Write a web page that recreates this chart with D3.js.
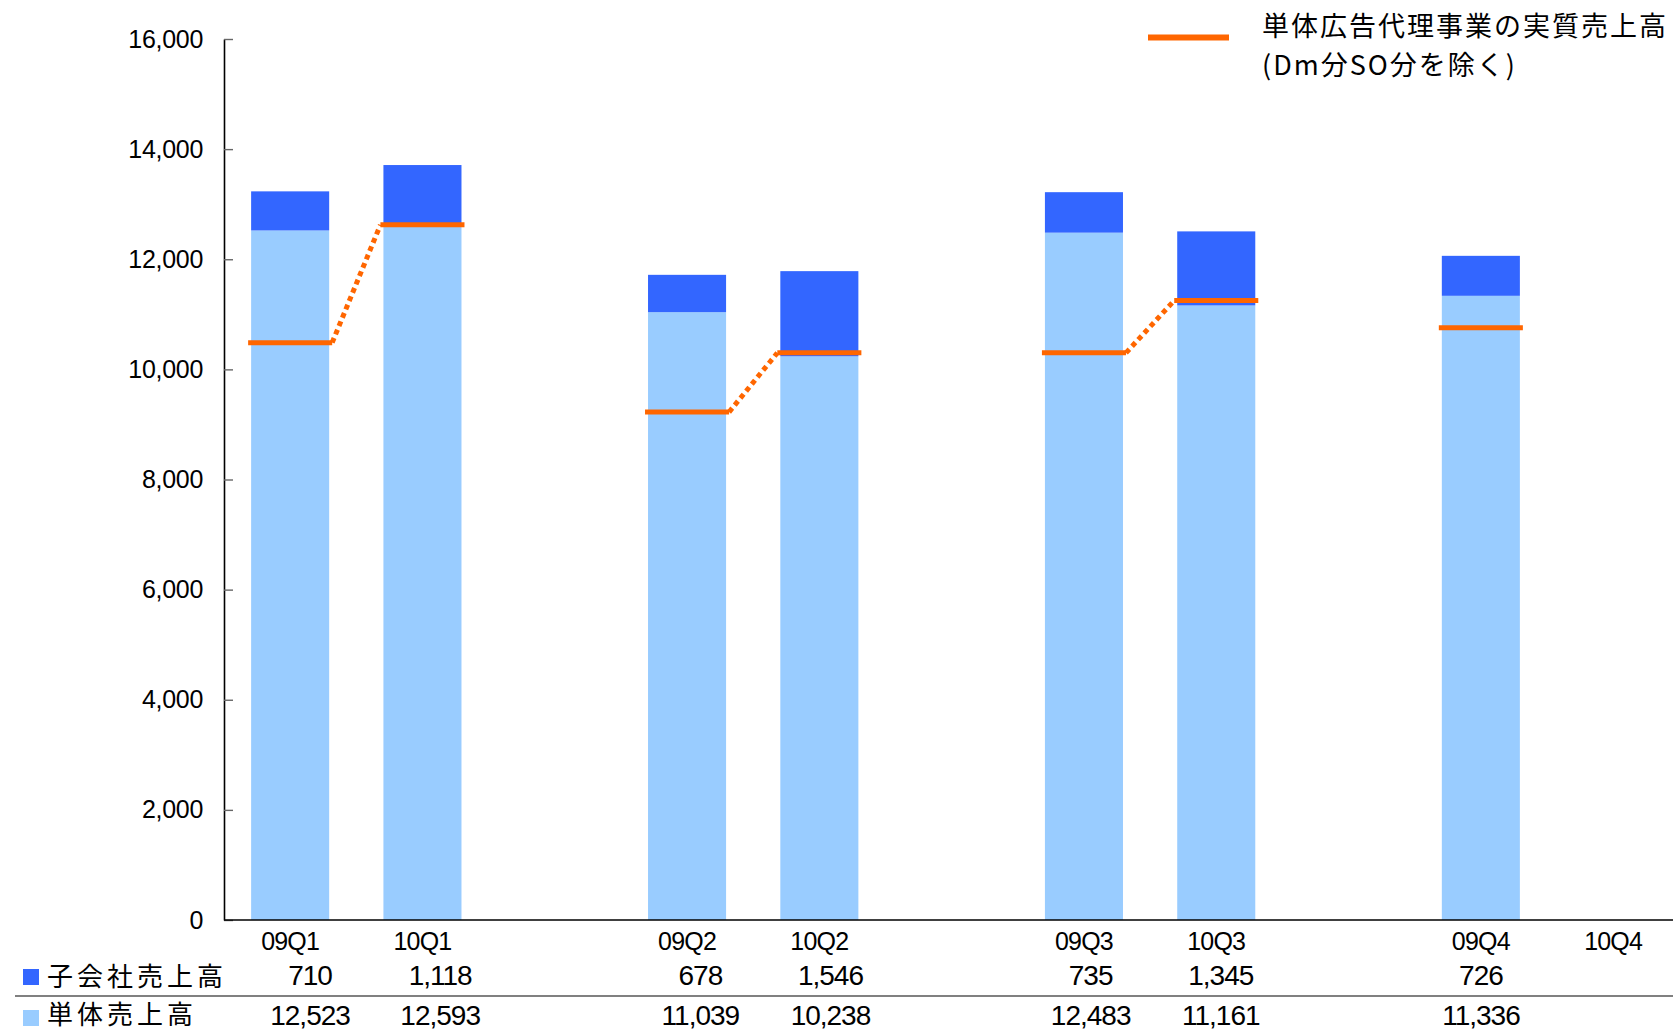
<!DOCTYPE html>
<html lang="ja">
<head>
<meta charset="utf-8">
<script src="https://cdn.jsdelivr.net/npm/d3@7"></script>
<style>
  html, body { margin: 0; padding: 0; background: #fff; }
  svg { display: block; }
  .num { font-family: "Liberation Sans", Arial, sans-serif; fill: #000; }
  .jp { font-family: "Noto Sans CJK JP", "Noto Sans", sans-serif; fill: #000; }
</style>
</head>
<body>
<svg id="chart" width="1673" height="1032"></svg>
<script>
// Quarterly sales (million yen): FY2009 vs FY2010 by quarter
const categories = ["09Q1", "10Q1", "09Q2", "10Q2", "09Q3", "10Q3", "09Q4", "10Q4"];
const subsidiarySales = [710, 1118, 678, 1546, 735, 1345, 726, null];      // 子会社売上高
const standaloneSales = [12523, 12593, 11039, 10238, 12483, 11161, 11336, null]; // 単体売上高
const coreAgencySales = [10485, 12625, 9225, 10300, 10300, 11250, 10755, null];  // 単体広告代理事業の実質売上高
const yTicks = [0, 2000, 4000, 6000, 8000, 10000, 12000, 14000, 16000];

const rowLabels = ["子会社売上高", "単体売上高"];
const legendLines = ["単体広告代理事業の実質売上高", "(Dm分SO分を除く)"];

const COLOR_SUB = "#3366FF";
const COLOR_SOLO = "#99CCFF";
const COLOR_CORE = "#FF6600";

const W = 1673, H = 1032;
const svg = d3.select("#chart");

// Slots: each quarter pair followed by an empty spacer slot
const slots = [];
for (let i = 0; i < categories.length; i += 2) {
  slots.push(categories[i], categories[i + 1]);
  if (i + 2 < categories.length) slots.push("gap" + i);
}

const plotLeft = 224, plotTop = 39, plotBottom = 920;
const x = d3.scaleBand()
  .domain(slots)
  .range([plotLeft, plotLeft + slots.length * 132.3])
  .paddingInner(0.41)
  .paddingOuter(0.205);

// Data table columns sit on a slightly narrower grid than the bars
const xTable = d3.scaleBand()
  .domain(slots)
  .range([245, 245 + slots.length * 130.1]);

const y = d3.scaleLinear().domain([0, 16000]).range([plotBottom, plotTop]);

const rows = categories.map((c, i) => ({
  cat: c,
  solo: standaloneSales[i],
  sub: subsidiarySales[i],
  core: coreAgencySales[i]
}));
const present = rows.filter(d => d.solo != null);

// Stacked bars: standalone at the bottom, subsidiaries on top
const bars = svg.append("g");
bars.selectAll("rect.solo")
  .data(present)
  .join("rect")
  .attr("class", "solo")
  .attr("x", d => x(d.cat))
  .attr("width", x.bandwidth())
  .attr("y", d => y(d.solo))
  .attr("height", d => y(0) - y(d.solo))
  .attr("fill", COLOR_SOLO);

bars.selectAll("rect.sub")
  .data(present)
  .join("rect")
  .attr("class", "sub")
  .attr("x", d => x(d.cat))
  .attr("width", x.bandwidth())
  .attr("y", d => y(d.solo + d.sub))
  .attr("height", d => y(d.solo) - y(d.solo + d.sub))
  .attr("fill", COLOR_SUB);

// Y axis with inward ticks
const yAxis = d3.axisLeft(y)
  .tickValues(yTicks)
  .tickFormat(d3.format(","))
  .tickSizeInner(-9)
  .tickSizeOuter(0)
  .tickPadding(21);

const yg = svg.append("g")
  .attr("transform", `translate(${plotLeft},0)`)
  .call(yAxis);
yg.select(".domain").attr("stroke", "#000").attr("stroke-width", 1.6);
yg.selectAll(".tick line").attr("stroke", "#666").attr("stroke-width", 1.4);
yg.selectAll(".tick text")
  .attr("class", "num")
  .style("font-size", "25px")
  .style("letter-spacing", "-0.3px")
  .attr("fill", "#000");

// Baseline running to the right edge
svg.append("line")
  .attr("x1", plotLeft).attr("x2", W)
  .attr("y1", y(0)).attr("y2", y(0))
  .attr("stroke", "#000").attr("stroke-width", 1.6);

// Core agency sales: short horizontal marks plus dotted links between years
const coreG = svg.append("g");
const ext = 3;
const withCore = rows.filter(d => d.core != null);
coreG.selectAll("line.core")
  .data(withCore)
  .join("line")
  .attr("class", "core")
  .attr("x1", d => x(d.cat) - ext)
  .attr("x2", d => x(d.cat) + x.bandwidth() + ext)
  .attr("y1", d => y(d.core))
  .attr("y2", d => y(d.core))
  .attr("stroke", COLOR_CORE)
  .attr("stroke-width", 5);

const links = [];
for (let i = 0; i < rows.length; i += 2) {
  const a = rows[i], b = rows[i + 1];
  if (a && b && a.core != null && b.core != null) links.push([a, b]);
}
coreG.selectAll("line.link")
  .data(links)
  .join("line")
  .attr("class", "link")
  .attr("x1", d => x(d[0].cat) + x.bandwidth() + ext)
  .attr("y1", d => y(d[0].core))
  .attr("x2", d => x(d[1].cat) - ext)
  .attr("y2", d => y(d[1].core))
  .attr("stroke", COLOR_CORE)
  .attr("stroke-width", 5)
  .attr("stroke-dasharray", "5,4");

// Legend
const legend = svg.append("g");
legend.append("line")
  .attr("x1", 1148).attr("x2", 1229)
  .attr("y1", 37.5).attr("y2", 37.5)
  .attr("stroke", COLOR_CORE).attr("stroke-width", 6);
legend.selectAll("text")
  .data(legendLines)
  .join("text")
  .attr("class", "jp")
  .attr("x", 1262)
  .attr("y", (d, i) => 36 + i * 39)
  .style("font-size", "27px")
  .style("letter-spacing", "2px")
  .text(d => d);

// Data table under the chart
const table = svg.append("g");
table.selectAll("text.cat")
  .data(rows)
  .join("text")
  .attr("class", "num cat")
  .attr("x", d => x(d.cat) + x.bandwidth() / 2)
  .attr("y", 950)
  .attr("text-anchor", "middle")
  .style("font-size", "25px")
  .style("letter-spacing", "-0.8px")
  .text(d => d.cat);

const fmt = d3.format(",");
table.selectAll("text.subv")
  .data(present)
  .join("text")
  .attr("class", "num subv")
  .attr("x", d => xTable(d.cat) + xTable.bandwidth() / 2)
  .attr("y", 985)
  .attr("text-anchor", "middle")
  .style("font-size", "28px")
  .style("letter-spacing", "-1px")
  .text(d => fmt(d.sub));

table.selectAll("text.solov")
  .data(present)
  .join("text")
  .attr("class", "num solov")
  .attr("x", d => xTable(d.cat) + xTable.bandwidth() / 2)
  .attr("y", 1025)
  .attr("text-anchor", "middle")
  .style("font-size", "28px")
  .style("letter-spacing", "-1px")
  .text(d => fmt(d.solo));

table.append("line")
  .attr("x1", 15).attr("x2", W)
  .attr("y1", 996).attr("y2", 996)
  .attr("stroke", "#808080").attr("stroke-width", 2);

const rowInfo = [
  { label: rowLabels[0], color: COLOR_SUB, sq: 969, base: 986 },
  { label: rowLabels[1], color: COLOR_SOLO, sq: 1010, base: 1024 }
];
table.selectAll("rect.key")
  .data(rowInfo)
  .join("rect")
  .attr("class", "key")
  .attr("x", 23).attr("y", d => d.sq)
  .attr("width", 16).attr("height", 16)
  .attr("fill", d => d.color);
table.selectAll("text.rowlabel")
  .data(rowInfo)
  .join("text")
  .attr("class", "jp rowlabel")
  .attr("x", 47)
  .attr("y", d => d.base)
  .style("font-size", "26px")
  .style("letter-spacing", "4px")
  .text(d => d.label);
</script>
</body>
</html>
